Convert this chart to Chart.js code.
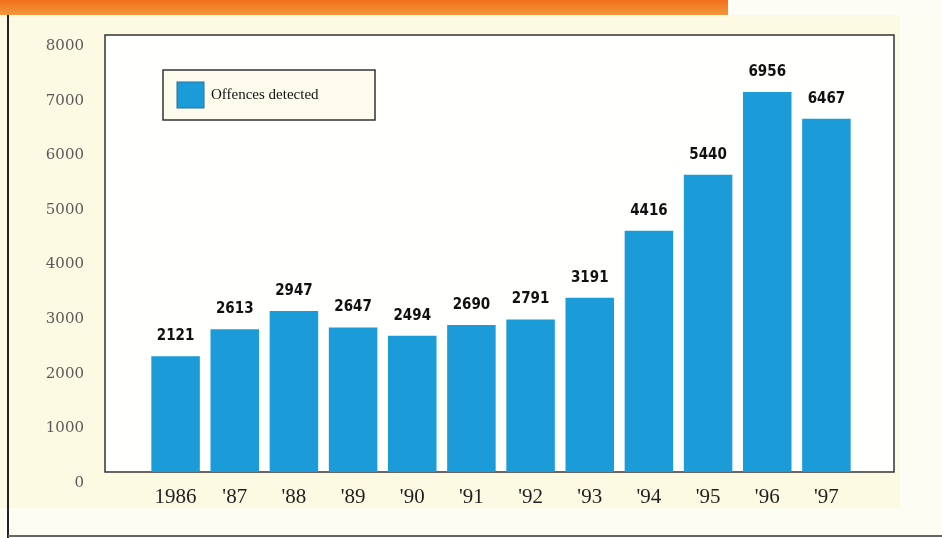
<!DOCTYPE html>
<html>
<head>
<meta charset="utf-8">
<script src="https://cdn.jsdelivr.net/npm/chart.js@4.4.1/dist/chart.umd.min.js"></script>
<style>
  html, body { margin: 0; padding: 0; background: #fcfae6; }
  #wrap { width: 942px; height: 538px; position: relative; }
</style>
</head>
<body>
<div id="wrap"><canvas id="c" width="942" height="538"></canvas></div>
<script>
// Offences detected per year, 1986-1997
const years = ['1986', "'87", "'88", "'89", "'90", "'91", "'92", "'93", "'94", "'95", "'96", "'97"];
const offences = [2121, 2613, 2947, 2647, 2494, 2690, 2791, 3191, 4416, 5440, 6956, 6467];
const seriesName = 'Offences detected';
const yTicks = [0, 1000, 2000, 3000, 4000, 5000, 6000, 7000, 8000];

const BAR_BLUE = '#1b9bd8';
const SERIF = '"Liberation Serif", "DejaVu Serif", serif';

// Page backdrop, orange header strip, left rule and the framed plot panel
const framePlugin = {
  id: 'frame',
  beforeDraw(chart) {
    const { ctx, chartArea: a } = chart;
    ctx.save();
    ctx.fillStyle = '#fcfae2';
    ctx.fillRect(0, 0, chart.width, chart.height);
    ctx.fillStyle = '#fdfdf4';
    ctx.fillRect(900, 0, chart.width - 900, chart.height);
    ctx.fillRect(0, 508, chart.width, chart.height - 508);

    // header strip
    const g = ctx.createLinearGradient(0, 0, 0, 16);
    g.addColorStop(0, '#f36f1c');
    g.addColorStop(1, '#f19a3c');
    ctx.fillStyle = g;
    ctx.fillRect(0, 0, 728, 15);
    ctx.fillStyle = '#fdfdf6';
    ctx.fillRect(728, 0, chart.width - 728, 15);

    // left rule
    ctx.strokeStyle = '#222';
    ctx.lineWidth = 2;
    ctx.beginPath();
    ctx.moveTo(8, 15);
    ctx.lineTo(8, 538);
    ctx.stroke();
    // bottom rule
    ctx.strokeStyle = '#666';
    ctx.lineWidth = 2;
    ctx.beginPath();
    ctx.moveTo(8, 536);
    ctx.lineTo(942, 536);
    ctx.stroke();

    // plot panel
    const left = a.left - 41, right = a.right + 38;
    ctx.fillStyle = '#fffffd';
    ctx.fillRect(left, a.top, right - left, a.bottom - a.top);
    ctx.strokeStyle = '#333';
    ctx.lineWidth = 1.5;
    ctx.strokeRect(left, a.top, right - left, a.bottom - a.top);
    ctx.restore();
  }
};

// Value labels above each bar and the boxed legend in the upper left of the panel
const annotatePlugin = {
  id: 'annotate',
  afterDatasetsDraw(chart) {
    const { ctx, chartArea: a } = chart;
    const meta = chart.getDatasetMeta(0);
    ctx.save();
    ctx.fillStyle = '#111';
    ctx.font = 'bold 15px "DejaVu Sans Condensed", "DejaVu Sans", sans-serif';
    ctx.textAlign = 'center';
    ctx.textBaseline = 'middle';
    meta.data.forEach((bar, i) => {
      ctx.fillText(String(chart.data.datasets[0].data[i]), bar.x, bar.y - 20);
    });

    // legend box
    const lx = a.left + 17, ly = a.top + 35, lw = 212, lh = 50;
    ctx.fillStyle = '#fdfcec';
    ctx.fillRect(lx, ly, lw, lh);
    ctx.strokeStyle = '#333';
    ctx.lineWidth = 1.5;
    ctx.strokeRect(lx, ly, lw, lh);
    ctx.fillStyle = BAR_BLUE;
    ctx.fillRect(lx + 14, ly + 12, 27, 26);
    ctx.strokeStyle = '#2a6f96';
    ctx.lineWidth = 1;
    ctx.strokeRect(lx + 14, ly + 12, 27, 26);
    ctx.fillStyle = '#111';
    ctx.font = '15px ' + SERIF;
    ctx.textAlign = 'left';
    ctx.fillText(chart.data.datasets[0].label, lx + 48, ly + 25);
    ctx.restore();
  }
};

new Chart(document.getElementById('c'), {
  type: 'bar',
  data: {
    labels: years,
    datasets: [{
      label: seriesName,
      data: offences,
      backgroundColor: BAR_BLUE,
      borderWidth: 0,
      barPercentage: 0.82,
      categoryPercentage: 1.0
    }]
  },
  options: {
    responsive: false,
    animation: false,
    devicePixelRatio: 1,
    layout: { autoPadding: false, padding: { left: 0, right: 86, top: 35, bottom: 0 } },
    plugins: {
      legend: { display: false },
      tooltip: { enabled: false }
    },
    scales: {
      x: {
        grid: { display: false },
        border: { display: false },
        ticks: {
          color: '#1e1e1e',
          font: { family: SERIF, size: 21 },
          padding: 5,
          maxRotation: 0
        },
        afterFit(scale) {
          scale.height = 66;
          scale.paddingLeft = 0;
          scale.paddingRight = 0;
        }
      },
      y: {
        min: 0,
        max: 8000,
        afterBuildTicks(scale) { scale.ticks = yTicks.map(v => ({ value: v })); },
        grid: { display: false },
        border: { display: false },
        ticks: {
          color: '#5a5a5a',
          font: { family: '"DejaVu Serif", serif', size: 15 },
          padding: 54,
          labelOffset: 11,
          callback: (v) => String(v)
        },
        afterFit(scale) {
          scale.width = 146;
          scale.paddingTop = 0;
          scale.paddingBottom = 0;
        }
      }
    }
  },
  plugins: [framePlugin, annotatePlugin]
});
</script>
</body>
</html>
